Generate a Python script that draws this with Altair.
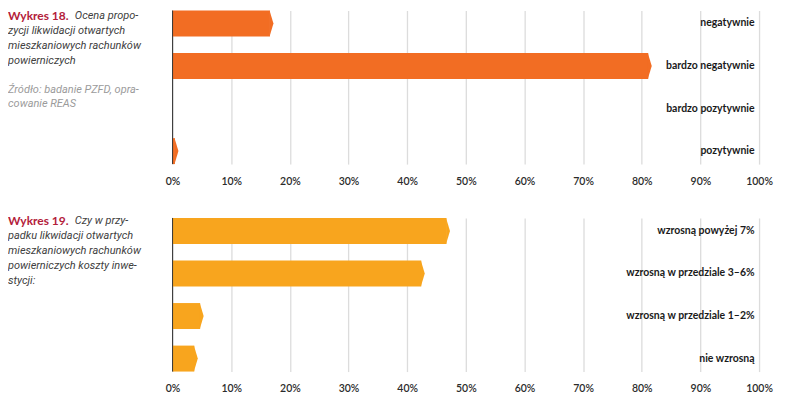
import altair as alt
import pandas as pd

FONT = "Lato"
IFONT = "Roboto"

cats18 = ["negatywnie", "bardzo negatywnie", "bardzo pozytywnie", "pozytywnie"]
vals18 = [17.2, 81.7, 0.0, 1.0]

cats19 = ["wzrosną powyżej 7%", "wzrosną w przedziale 3–6%",
          "wzrosną w przedziale 1–2%", "nie wzrosną"]
vals19 = [47.3, 43.0, 5.3, 4.3]

tick_values = [0, 10, 20, 30, 40, 50, 60, 70, 80, 90, 100]

head18 = "Wykres 18."
rest18 = "Ocena propo-"
lines18 = ["zycji likwidacji otwartych", "mieszkaniowych rachunków", "powierniczych"]
source18 = ["Źródło: badanie PZFD, opra-", "cowanie REAS"]

head19 = "Wykres 19."
rest19 = "Czy w przy-"
lines19 = ["padku likwidacji otwartych", "mieszkaniowych rachunków",
           "powierniczych koszty inwe-", "stycji:"]

ORANGE = "#F26D23"
AMBER = "#F8A51E"
RED = "#B3203A"
TEXT_GRAY = "#404040"
SRC_GRAY = "#9b9b9b"

W, H = 588, 154
TIP = "M -0.3 -1 L 0 0 L -0.3 1 Z"


def text_layer(text, x, y, font=FONT, **kw):
    return alt.Chart(pd.DataFrame({"d": [0]})).mark_text(
        text=text, align="left", baseline="middle", font=font, **kw
    ).encode(x=alt.value(x), y=alt.value(y))


def panel(cats, vals, color, head, rest, lines, y0, src=None, src_y=None):
    df = pd.DataFrame({"cat": cats, "value": vals})
    x = alt.X("value:Q", scale=alt.Scale(domain=[0, 100], nice=False),
              axis=alt.Axis(values=tick_values, labelExpr="datum.value + '%'",
                            grid=True, gridColor="#dcdcdc", gridWidth=1.3,
                            domain=False, ticks=False, labelPadding=12,
                            labelFlush=False,
                            labelFont=FONT, labelFontSize=10.5,
                            labelColor="#2b2b2b", labelFontWeight=600,
                            title=None))
    y = alt.Y("cat:N", sort=cats,
              scale=alt.Scale(domain=cats, paddingInner=0.39, paddingOuter=0),
              axis=alt.Axis(orient="right", labelAlign="right", labelPadding=-5,
                            ticks=False, domain=False, grid=False, title=None,
                            labelFont=FONT, labelFontSize=10.5,
                            labelFontWeight="bold", labelColor="#1a1a1a"))
    base = alt.Chart(df).transform_filter("datum.value > 0")
    bars = base.mark_bar(color=color, xOffset=-3.5).encode(x=x, x2=alt.datum(0), y=y)
    tips = base.mark_point(shape=TIP, size=676, filled=True, opacity=1,
                           color=color, strokeWidth=0).encode(x=x, y=y)
    zero = alt.Chart(pd.DataFrame({"z": [0]})).mark_rule(
        color="#333333", strokeWidth=1).encode(
        x=alt.X("z:Q", scale=alt.Scale(domain=[0, 100], nice=False)))
    layers = [bars, tips, zero,
              text_layer(head, -165, y0, fontSize=12, fontWeight="bold", color=RED),
              text_layer(rest, -98, y0, font=IFONT, fontSize=11,
                         fontStyle="italic", color=TEXT_GRAY)]
    for i, ln in enumerate(lines):
        layers.append(text_layer(ln, -165, y0 + 15 * (i + 1), font=IFONT,
                                 fontSize=11, fontStyle="italic", color=TEXT_GRAY))
    if src:
        for i, ln in enumerate(src):
            layers.append(text_layer(ln, -165, src_y + 14 * i, font=IFONT,
                                     fontSize=11, fontStyle="italic", color=SRC_GRAY))
    return alt.layer(*layers).properties(width=W, height=H)


c1 = panel(cats18, vals18, ORANGE, head18, rest18, lines18, 6, source18, 80)
c2 = panel(cats19, vals19, AMBER, head19, rest19, lines19, 3)

chart = alt.vconcat(c1, c2, spacing=28).properties(
    padding={"left": 0, "top": 1, "right": 5, "bottom": 0}
).configure_view(stroke=None)

chart.save("out.html", embed_options={"renderer": "svg", "actions": False})
